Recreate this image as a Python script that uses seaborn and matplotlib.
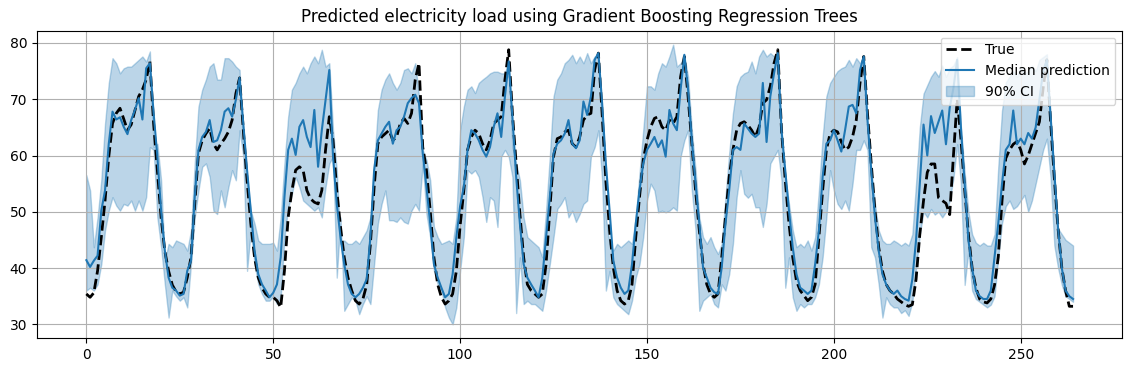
import numpy as np
import matplotlib
matplotlib.use("Agg")
import matplotlib.pyplot as plt
import seaborn as sns

true_load = [
    35.4, 34.8, 35.6, 39.5, 45.5, 52.0, 59.8, 65.7, 67.5, 68.4,
    66.5, 64.5, 65.5, 68.0, 70.5, 71.7, 73.5, 76.7, 65.7, 57.4,
    49.0, 43.0, 39.5, 37.0, 35.8, 35.4, 35.7, 38.3, 41.9, 51.4,
    60.4, 62.7, 63.9, 64.8, 62.1, 61.0, 62.1, 63.0, 64.2, 66.3,
    71.0, 73.8, 64.5, 55.6, 47.9, 41.9, 38.3, 36.5, 35.4, 34.8,
    34.8, 34.2, 33.0, 39.5, 49.0, 53.8, 57.4, 58.0, 57.4, 53.8,
    52.3, 51.7, 51.4, 53.8, 61.0, 66.9, 62.7, 53.8, 47.3, 41.9,
    38.3, 36.0, 34.2, 33.6, 34.5, 37.0, 44.3, 54.4, 62.1, 63.3,
    63.9, 64.5, 62.7, 63.3, 65.7, 66.6, 65.7, 67.5, 73.5, 76.4,
    61.5, 57.4, 50.2, 41.9, 37.1, 34.8, 33.6, 34.2, 35.4, 39.5,
    47.5, 53.8, 61.0, 63.3, 64.5, 63.9, 62.1, 61.0, 62.7, 65.7,
    66.3, 66.9, 73.5, 78.8, 67.5, 58.6, 49.6, 41.9, 37.1, 36.0,
    35.4, 34.8, 35.4, 40.7, 50.2, 59.8, 63.0, 63.3, 64.2, 64.5,
    62.1, 61.5, 63.3, 66.3, 67.2, 67.5, 75.2, 78.2, 67.5, 55.6,
    46.7, 40.1, 36.0, 34.2, 33.6, 34.2, 37.1, 45.5, 52.6, 59.2,
    62.7, 65.1, 66.6, 66.9, 65.1, 64.5, 66.3, 65.7, 66.9, 74.0,
    77.6, 70.5, 62.1, 53.8, 46.7, 40.7, 37.1, 35.4, 34.8, 35.4,
    41.9, 49.0, 56.2, 61.0, 64.5, 65.7, 66.0, 65.4, 64.5, 63.3,
    65.1, 69.3, 69.9, 72.3, 76.4, 78.8, 64.5, 55.6, 47.9, 41.9,
    37.7, 36.0, 35.1, 34.2, 34.8, 37.1, 45.5, 53.8, 61.0, 63.9,
    64.5, 64.2, 62.4, 61.0, 61.5, 63.3, 66.3, 72.9, 77.6, 67.5,
    58.6, 50.2, 43.7, 39.5, 37.1, 36.0, 35.4, 34.5, 34.0, 33.5,
    33.2, 33.5, 38.0, 46.0, 52.0, 57.0, 58.5, 58.5, 52.5, 52.0,
    51.5, 49.5, 60.0, 70.0, 63.0, 54.0, 46.0, 40.0, 36.5, 34.5,
    34.0, 33.8, 34.5, 37.0, 42.0, 52.0, 59.5, 61.0, 62.0, 62.5,
    61.0, 58.5, 60.0, 62.0, 64.0, 66.0, 72.0, 77.0, 66.0, 56.0,
    47.0, 40.0, 36.0, 33.2, 33.2,
]

median_pred = [
    41.4, 40.2, 41.3, 42.2, 50.2, 53.8, 62.1, 67.8, 66.4, 66.8,
    65.1, 63.8, 66.3, 68.1, 70.2, 66.4, 75.5, 76.4, 67.5, 59.8,
    50.2, 43.1, 38.3, 36.5, 36.0, 35.1, 35.4, 39.5, 41.3, 52.6,
    61.0, 63.3, 64.2, 66.3, 62.4, 62.7, 64.5, 67.8, 68.4, 66.9,
    69.9, 73.8, 65.7, 57.4, 50.2, 43.1, 38.9, 37.1, 36.0, 34.8,
    35.6, 37.1, 41.9, 52.6, 61.0, 63.0, 60.1, 65.1, 66.3, 63.3,
    61.5, 68.1, 58.0, 64.5, 69.9, 75.2, 59.8, 51.4, 45.5, 40.7,
    37.1, 35.4, 34.8, 35.4, 36.5, 38.0, 45.5, 57.4, 62.7, 63.9,
    65.1, 66.0, 62.1, 64.5, 65.1, 66.9, 69.3, 70.2, 70.8, 69.3,
    60.4, 54.4, 47.9, 40.7, 38.3, 36.5, 34.8, 35.4, 38.9, 45.5,
    51.0, 54.4, 61.0, 64.5, 63.9, 62.7, 61.0, 59.8, 61.5, 65.1,
    67.5, 63.3, 70.5, 76.7, 66.9, 56.2, 47.9, 40.7, 38.3, 37.1,
    36.0, 34.8, 38.3, 45.5, 52.6, 60.4, 62.1, 62.7, 63.9, 66.3,
    62.1, 61.3, 62.7, 69.6, 67.2, 70.5, 77.0, 78.2, 69.3, 58.6,
    50.2, 41.3, 38.3, 36.5, 35.4, 36.0, 40.7, 47.9, 53.8, 58.6,
    61.0, 62.1, 63.3, 61.5, 62.7, 59.8, 68.1, 65.7, 64.5, 71.7,
    77.9, 71.7, 62.7, 55.0, 47.9, 40.1, 38.3, 36.5, 35.7, 35.4,
    40.1, 47.9, 53.8, 61.0, 61.5, 61.0, 65.7, 64.8, 63.9, 63.3,
    63.9, 72.9, 62.4, 70.5, 74.6, 78.2, 64.5, 57.4, 50.2, 43.7,
    38.9, 36.5, 36.0, 35.4, 36.0, 40.7, 46.7, 56.2, 62.1, 62.7,
    64.5, 62.7, 60.7, 64.5, 68.7, 69.0, 67.5, 75.2, 77.6, 66.3,
    57.4, 49.0, 43.1, 38.9, 37.1, 36.0, 35.4, 36.0, 35.0, 34.5,
    34.2, 38.0, 45.0, 55.0, 65.5, 60.0, 67.0, 64.0, 66.0, 68.0,
    62.0, 68.5, 72.0, 77.0, 65.0, 55.0, 45.0, 40.0, 36.0, 35.0,
    34.5, 34.5, 36.0, 42.0, 48.0, 55.0, 61.0, 62.0, 68.0, 62.0,
    63.0, 62.0, 64.0, 63.0, 65.0, 70.0, 75.0, 77.0, 67.0, 57.0,
    47.0, 40.0, 36.0, 35.0, 34.5,
]

ci_lower = [
    36.0, 36.5, 36.0, 37.1, 40.7, 46.7, 50.2, 52.6, 51.1, 50.2,
    51.4, 51.1, 52.0, 50.2, 52.0, 50.2, 52.6, 61.5, 61.0, 49.0,
    43.7, 37.1, 31.2, 36.0, 35.0, 34.2, 34.8, 33.0, 40.7, 49.0,
    53.8, 58.0, 58.6, 56.2, 50.2, 49.6, 53.8, 50.8, 54.4, 57.4,
    55.6, 64.5, 59.8, 39.5, 46.7, 40.7, 37.1, 35.4, 34.2, 34.2,
    35.0, 33.6, 34.8, 45.5, 50.8, 53.2, 56.2, 54.4, 52.0, 51.4,
    50.8, 50.2, 50.8, 49.0, 54.4, 58.6, 59.8, 38.3, 49.0, 32.4,
    33.6, 34.8, 34.2, 31.8, 33.6, 35.0, 33.6, 40.7, 47.9, 51.4,
    53.8, 48.5, 48.5, 48.2, 49.0, 48.2, 47.9, 50.2, 51.4, 50.2,
    58.6, 49.6, 45.5, 39.5, 37.1, 36.0, 33.0, 31.2, 30.0, 33.0,
    39.5, 45.5, 57.4, 56.8, 57.4, 56.2, 52.6, 48.2, 52.6, 52.0,
    47.3, 59.8, 61.0, 59.8, 56.2, 32.0, 41.9, 33.6, 34.2, 33.6,
    33.6, 33.0, 32.4, 36.0, 40.7, 45.5, 50.5, 51.4, 52.6, 49.0,
    50.2, 48.2, 49.6, 51.4, 52.0, 59.8, 61.5, 64.5, 55.6, 36.0,
    39.5, 34.8, 33.6, 33.0, 32.4, 31.8, 34.2, 38.3, 40.7, 45.5,
    52.0, 55.0, 53.8, 49.9, 50.2, 49.9, 50.2, 50.8, 50.2, 59.8,
    62.7, 64.5, 53.8, 46.7, 32.4, 34.2, 34.8, 35.4, 33.6, 33.0,
    37.1, 36.0, 38.9, 44.3, 52.6, 57.4, 53.2, 52.5, 53.2, 50.8,
    50.8, 47.3, 51.4, 58.6, 59.8, 61.0, 55.6, 36.5, 41.9, 34.8,
    32.4, 33.6, 33.0, 33.6, 33.6, 34.8, 37.1, 41.9, 49.0, 57.4,
    53.8, 51.4, 50.5, 52.0, 50.2, 55.0, 61.0, 61.0, 62.7, 61.0,
    43.7, 41.9, 37.1, 31.2, 34.8, 33.6, 33.0, 33.0, 32.0, 32.5,
    31.5, 34.0, 40.0, 46.0, 50.0, 49.0, 50.5, 49.5, 50.0, 49.0,
    50.0, 52.0, 56.0, 62.0, 55.0, 37.0, 43.0, 36.0, 34.5, 34.0,
    33.5, 33.0, 33.5, 35.0, 42.0, 48.0, 51.0, 52.0, 50.5, 51.0,
    52.0, 53.0, 50.0, 52.0, 55.0, 58.0, 61.0, 63.0, 56.0, 44.0,
    40.0, 37.0, 35.0, 34.5, 34.0,
]

ci_upper = [
    56.5, 53.8, 43.7, 49.0, 55.6, 65.7, 72.9, 77.3, 76.4, 74.6,
    75.5, 75.8, 75.8, 76.4, 77.0, 77.6, 76.7, 78.5, 61.5, 62.1,
    55.6, 41.3, 44.3, 43.7, 44.9, 44.6, 44.3, 43.1, 46.7, 58.6,
    68.7, 71.7, 73.5, 75.8, 76.4, 73.5, 73.5, 77.3, 77.3, 76.7,
    75.8, 75.2, 60.4, 55.0, 50.2, 47.9, 44.9, 44.3, 44.3, 44.3,
    44.5, 43.1, 49.0, 58.6, 66.9, 71.7, 72.9, 74.6, 75.8, 74.6,
    76.4, 77.6, 76.4, 78.8, 75.8, 76.4, 64.5, 57.4, 44.3, 44.9,
    44.3, 44.3, 44.9, 44.3, 45.5, 46.7, 49.0, 58.6, 68.1, 71.7,
    73.5, 74.6, 72.9, 71.7, 72.9, 75.2, 75.5, 74.6, 76.4, 70.5,
    61.0, 59.2, 55.6, 47.3, 45.5, 44.3, 44.6, 44.9, 44.3, 49.0,
    64.5, 68.7, 71.7, 72.3, 71.1, 72.9, 73.5, 74.0, 74.6, 74.9,
    74.9, 74.6, 74.6, 77.0, 61.5, 58.6, 55.6, 49.0, 45.5, 44.9,
    44.3, 43.7, 41.9, 50.2, 59.8, 70.5, 73.5, 74.6, 76.4, 77.0,
    77.9, 76.4, 77.6, 76.4, 78.2, 76.4, 77.6, 77.6, 65.1, 49.0,
    44.3, 43.1, 44.3, 43.7, 44.3, 44.9, 44.3, 49.0, 56.8, 64.5,
    72.3, 72.3, 71.7, 74.6, 76.4, 75.8, 77.6, 79.7, 75.8, 76.4,
    77.6, 74.0, 64.5, 57.4, 49.0, 45.5, 44.3, 45.5, 43.7, 42.5,
    44.3, 52.6, 60.4, 67.5, 72.3, 74.0, 74.6, 74.9, 76.7, 74.6,
    77.6, 78.8, 77.6, 78.2, 77.6, 78.2, 63.3, 56.2, 51.4, 46.7,
    43.7, 44.3, 43.7, 44.9, 43.1, 45.5, 53.8, 63.3, 70.5, 72.9,
    74.0, 75.0, 75.5, 75.8, 77.0, 75.8, 77.3, 76.4, 77.6, 65.7,
    57.4, 51.4, 46.7, 44.9, 44.3, 44.3, 44.9, 44.5, 44.0, 44.5,
    44.0, 46.0, 55.0, 65.0, 71.0, 72.5, 74.0, 75.0, 74.0, 76.0,
    74.0, 75.5, 76.0, 77.5, 65.0, 57.0, 50.0, 46.0, 44.5, 44.0,
    44.5, 44.0, 44.0, 46.0, 58.0, 68.0, 73.0, 74.0, 75.0, 74.0,
    76.0, 74.5, 75.0, 76.0, 75.0, 77.0, 77.5, 78.0, 65.0, 50.0,
    47.0, 46.0, 45.0, 44.5, 44.0,
]

hours = np.arange(len(true_load))

fig, ax = plt.subplots(figsize=(11.32, 3.72), dpi=100)
fig.subplots_adjust(left=0.0327, right=0.9915, bottom=0.0906, top=0.9175)

sns.lineplot(x=hours, y=true_load, ax=ax, color="black", linestyle="--",
             linewidth=2, label="True")
sns.lineplot(x=hours, y=median_pred, ax=ax, color="tab:blue",
             linewidth=1.5, label="Median prediction")
ax.fill_between(hours, ci_lower, ci_upper, color="tab:blue", alpha=0.3,
                label="90% CI")

ax.set_title("Predicted electricity load using Gradient Boosting Regression Trees")
ax.grid(True)
ax.set_xlabel("")
ax.set_ylabel("")
ax.legend(loc="upper right")

fig.savefig("out.png", dpi=100)
